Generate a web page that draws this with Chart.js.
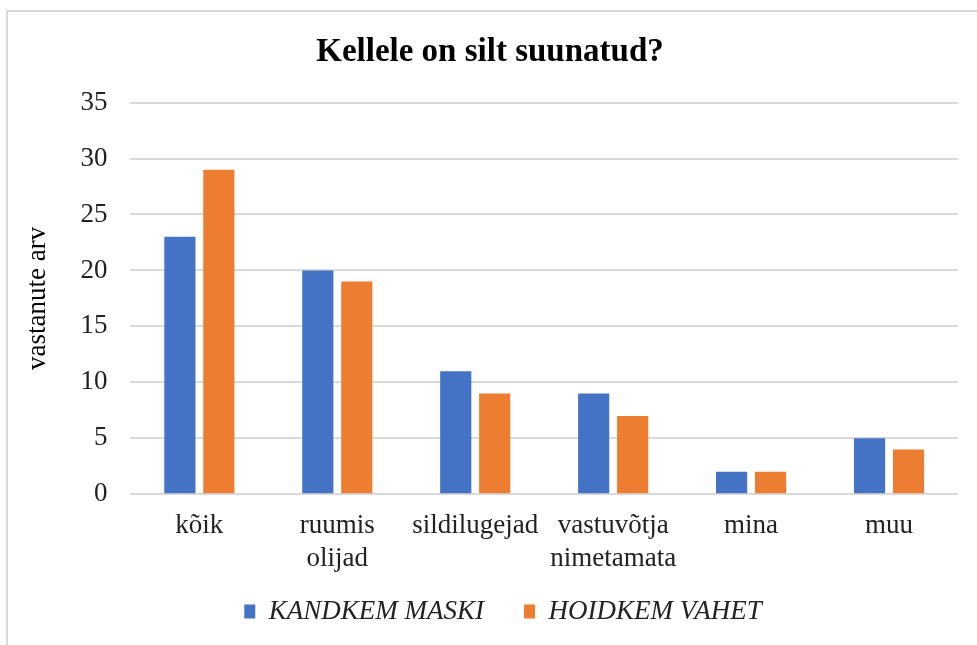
<!DOCTYPE html>
<html>
<head>
<meta charset="utf-8">
<script src="https://cdn.jsdelivr.net/npm/chart.js@4"></script>
<style>
    html, body { margin: 0; padding: 0; background: #fff; overflow: hidden; }
    #frame {
        position: absolute; left: 6px; top: 10px; width: 1000px; height: 700px;
        border-left: 2px solid #d9d9d9; border-top: 2px solid #d9d9d9;
    }
    #wrap { position: absolute; left: 0; top: 0; width: 977px; height: 680px; }
</style>
</head>
<body>
<div id="frame"></div>
<div id="wrap"><canvas id="signChart"></canvas></div>
<script>
// Chart data
const categories = ['kõik', ['ruumis', 'olijad'], 'sildilugejad', ['vastuvõtja', 'nimetamata'], 'mina', 'muu'];
const maskValues = [23, 20, 11, 9, 2, 5];
const distanceValues = [29, 19, 9, 7, 2, 4];
const seriesNames = ['KANDKEM MASKI', 'HOIDKEM VAHET'];
const yTicks = [0, 5, 10, 15, 20, 25, 30, 35];

const serif = '"Liberation Serif", "Times New Roman", serif';

// Nudge the legend up/right so it sits where the original one does
const legendNudge = {
    id: 'legendNudge',
    afterLayout(chart) {
        const lg = chart.legend;
        if (!lg) return;
        lg.left += 13;
        lg.right += 13;
        lg.top -= 33;
        lg.bottom -= 33;
    },
};

const ctx = document.getElementById('signChart').getContext('2d');
new Chart(ctx, {
    type: 'bar',
    data: {
        labels: categories,
        datasets: [{
            label: seriesNames[0],
            data: maskValues,
            backgroundColor: '#4472C4',
        }, {
            label: seriesNames[1],
            data: distanceValues,
            backgroundColor: '#ED7D31',
        }],
    },
    plugins: [legendNudge],
    options: {
        responsive: true,
        maintainAspectRatio: false,
        animation: false,
        categoryPercentage: 0.565,
        barPercentage: 0.8,
        layout: {
            padding: { top: 33, left: 22, right: 19, bottom: 12 },
        },
        plugins: {
            title: {
                display: true,
                text: 'Kellele on silt suunatud?',
                color: '#000',
                font: { family: serif, size: 33, weight: 'bold' },
                padding: { top: 0, bottom: 30 },
            },
            legend: {
                position: 'bottom',
                labels: {
                    color: '#222',
                    font: { family: serif, size: 27, style: 'italic' },
                    boxWidth: 11,
                    boxHeight: 14,
                    padding: 40,
                },
            },
            tooltip: { enabled: false },
        },
        scales: {
            x: {
                grid: { display: false, drawTicks: false },
                border: { display: false },
                ticks: {
                    color: '#222',
                    font: { family: serif, size: 27 },
                    maxRotation: 0,
                    padding: 16,
                },
            },
            y: {
                min: 0,
                max: 35,
                afterBuildTicks: (axis) => {
                    axis.ticks = yTicks.map((v) => ({ value: v }));
                },
                grid: { color: '#d9d9d9', lineWidth: 2, drawTicks: false },
                border: { display: false },
                ticks: {
                    color: '#222',
                    font: { family: serif, size: 27 },
                    padding: 23,
                },
                title: {
                    display: true,
                    text: 'vastanute arv',
                    color: '#000',
                    font: { family: serif, size: 27 },
                    padding: { top: 0, bottom: 3 },
                },
            },
        },
    },
});
</script>
</body>
</html>
